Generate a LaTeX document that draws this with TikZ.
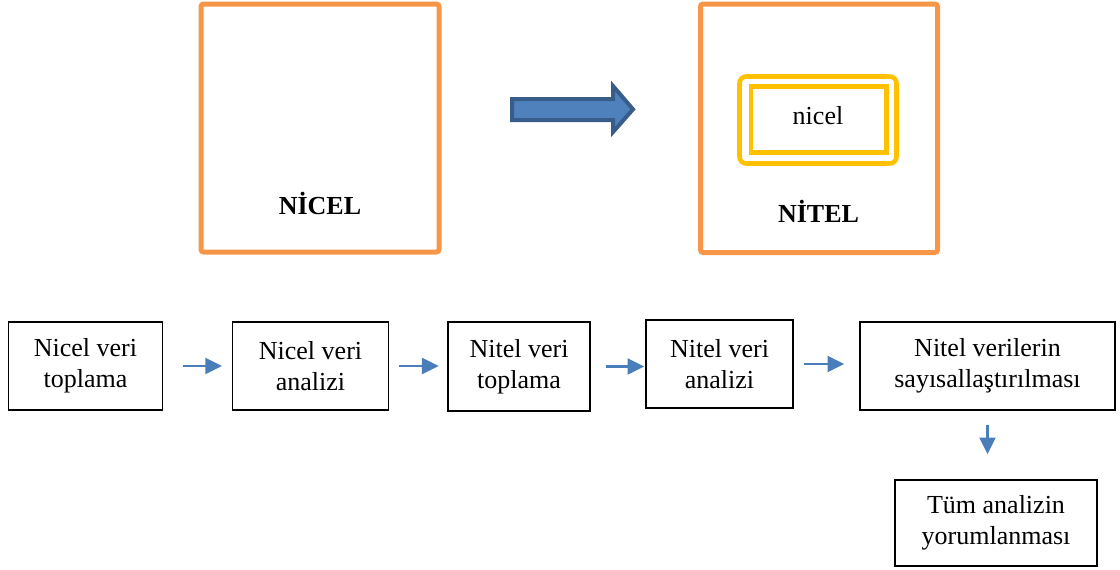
\documentclass[tikz,border=0pt]{standalone}
\usepackage{fontspec}
\setmainfont{Liberation Serif}
\usepackage{xcolor}
\usepackage{tikz}
\usetikzlibrary{arrows.meta,positioning,calc}
\definecolor{frameorange}{HTML}{F79646}
\definecolor{frameyellow}{HTML}{FFC000}
\definecolor{flowblue}{HTML}{4A7EBB}
\definecolor{bigfill}{HTML}{4F81BD}
\definecolor{bigedge}{HTML}{385D8A}

\begin{document}
\begin{tikzpicture}[x=0.75pt, y=-0.75pt, font=\fontsize{19.5}{23.5}\selectfont,
    stepbox/.style={draw, line width=1.1pt, align=center, inner sep=0pt},
    flow/.style={-{Triangle[length=12.5pt,width=12pt]}, line width=1.6pt, flowblue},
    outerframe/.style={frameorange, line width=3.75pt, rounded corners=2pt},
    innerframe/.style={frameyellow, line width=3.4pt}]
  \useasboundingbox (0,0) rectangle (1120,569);

  \draw[outerframe] (201,4) rectangle (439,252);
  \node[anchor=base, font=\fontsize{19.5}{23.5}\selectfont\bfseries] (nicelLabel) at (320,214) {NİCEL};

  \draw[bigedge, fill=bigfill, line width=3pt, line join=miter]
        (512,99) -- (613,99) -- (613,86) -- (633,109.3) -- (613,132) -- (613,120) -- (512,120) -- cycle;

  \draw[outerframe] (700.5,4) rectangle (937.5,252.5);
  \draw[innerframe, rounded corners=5pt] (739.5,76.5) rectangle (896.5,163.5);
  \draw[innerframe] (751,86.5) rectangle (886.5,152.5);
  \node[anchor=base] (nicelInner) at (818,124) {nicel};
  \node[anchor=base, font=\fontsize{19.5}{23.5}\selectfont\bfseries] (nitelLabel) at (818.5,222) {NİTEL};

  \node[stepbox, minimum width=115.5pt, minimum height=66pt] (nicelToplama) at (85.5,366) {Nicel veri\\toplama};
  \node[stepbox, minimum width=117pt, minimum height=66pt] (nicelAnaliz) at (310.5,366) {Nicel veri\\analizi};
  \node[stepbox, minimum width=106.5pt, minimum height=66.75pt] (nitelToplama) at (519,366.5) {Nitel veri\\toplama};
  \node[stepbox, minimum width=110.25pt, minimum height=66pt] (nitelAnaliz) at (719.5,364) {Nitel veri\\analizi};
  \node[stepbox, minimum width=191.25pt, minimum height=66pt] (sayisal) at (987.5,366) {Nitel verilerin\\sayısallaştırılması};
  \node[stepbox, minimum width=151.5pt, minimum height=64.5pt] (yorum) at (996,523) {Tüm analizin\\yorumlanması};

  \draw[flow, shorten <=14.6pt, shorten >=7.3pt] (nicelToplama.east) -- (nicelToplama.east -| nicelAnaliz.west);
  \draw[flow, shorten <=7.2pt, shorten >=6.5pt] (nicelAnaliz.east) -- (nicelAnaliz.east -| nitelToplama.west);
  \draw[flow, shorten <=11.25pt, shorten >=0.75pt] (nitelToplama.east) -- (nitelToplama.east -| nitelAnaliz.west);
  \draw[flow, shorten <=7.5pt, shorten >=11.25pt] (nitelAnaliz.east) -- (nitelAnaliz.east -| sayisal.west);
  \draw[flow, shorten <=10.5pt, shorten >=18.75pt] (sayisal.south) -- (sayisal.south |- yorum.north);
\end{tikzpicture}
\end{document}
